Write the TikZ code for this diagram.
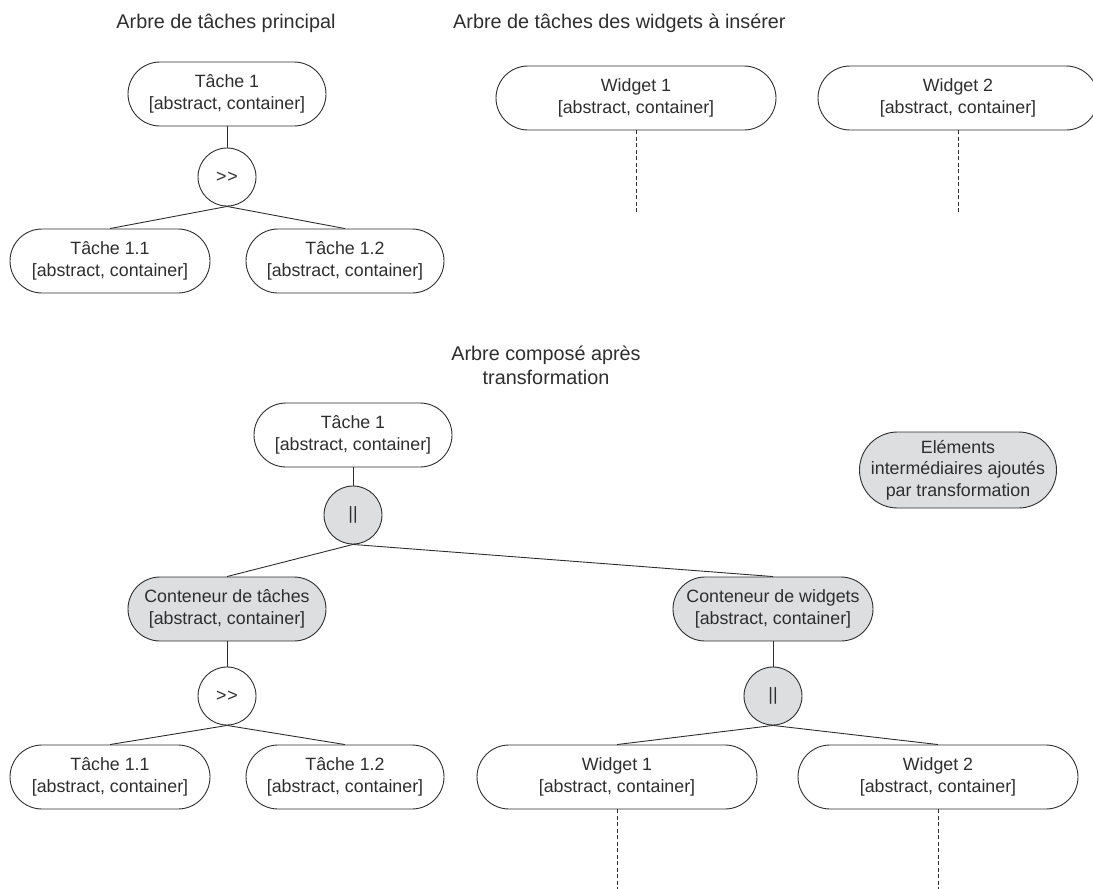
\documentclass[tikz,border=0pt]{standalone}
\usepackage{fontspec}
\setmainfont{Liberation Sans}[Ligatures=NoCommon]
\definecolor{linec}{HTML}{2E2E2E}
\definecolor{graybg}{HTML}{DDDEDF}
\newcommand{\nodefont}{\fontsize{17.8}{21.7}\selectfont}
\newcommand{\titlefont}{\fontsize{19.8}{24}\selectfont}
\newcommand{\seqop}{{>}\kern1pt{>}}
\begin{document}
\begin{tikzpicture}[x=1pt,y=-1pt,
  box/.style={draw=linec, line width=0.9pt, rounded corners=32pt, minimum height=64pt,
    align=center, inner sep=0pt, font=\nodefont, text=linec},
  taskbox/.style={box, minimum width=198pt},
  widbox/.style={box, minimum width=280pt},
  added/.style={fill=graybg},
  opnode/.style={circle, draw=linec, line width=0.9pt, minimum size=58pt, inner sep=0pt,
    font=\nodefont, text=linec},
  conn/.style={draw=linec, line width=0.9pt},
  dashconn/.style={draw=linec, line width=0.8pt, dash pattern=on 4pt off 2.5pt},
  title/.style={font=\titlefont, text=linec, align=center, inner sep=0pt}
]
\useasboundingbox (0,0) rectangle (1093,889);

% ---------- Titles ----------
\node[title] (tt1) at (226,23) {Arbre de tâches principal};
\node[title, anchor=west] (tt2) at (453,23) {Arbre de tâches des widgets à insérer};
\node[title] (tt3) at (546,365) {Arbre composé après\\transformation};

% ---------- Top-left tree ----------
\node[taskbox] (a1) at (227,94) {Tâche 1\\{}[abstract, container]};
\node[opnode] (aop) at (227,177) {\seqop};
\node[taskbox, minimum width=200pt] (a11) at (110,261) {Tâche 1.1\\{}[abstract, container]};
\node[taskbox] (a12) at (345,261) {Tâche 1.2\\{}[abstract, container]};
\draw[conn] (a1.south) -- (aop.north);
\draw[conn] (aop.south) -- (a11.north);
\draw[conn] (aop.south) -- (a12.north);

% ---------- Top-right widgets ----------
\node[widbox] (w1) at (636,98) {Widget 1\\{}[abstract, container]};
\node[widbox] (w2) at (958,98) {Widget 2\\{}[abstract, container]};
\coordinate (w1e) at (636,213);
\coordinate (w2e) at (958,213);
\draw[dashconn] (w1.south) -- (w1e);
\draw[dashconn] (w2.south) -- (w2e);

% ---------- Legend ----------
\node[box, added, minimum width=197pt, minimum height=76pt, rounded corners=38pt] (leg) at (958,470)
  {Eléments\\intermédiaires ajoutés\\par transformation};

% ---------- Composed tree ----------
\node[taskbox] (b1) at (353,435) {Tâche 1\\{}[abstract, container]};
\node[opnode, added] (bpar) at (353,515) {||};
\node[taskbox, added] (bct) at (227,609) {Conteneur de tâches\\{}[abstract, container]};
\node[taskbox, added, minimum width=200pt] (bcw) at (773,609) {Conteneur de widgets\\{}[abstract, container]};
\node[opnode] (bseq) at (227,696) {\seqop};
\node[opnode, added] (bpar2) at (773,696) {||};
\node[taskbox, minimum width=200pt] (b11) at (110,777) {Tâche 1.1\\{}[abstract, container]};
\node[taskbox] (b12) at (345,777) {Tâche 1.2\\{}[abstract, container]};
\node[widbox] (bw1) at (617,777) {Widget 1\\{}[abstract, container]};
\node[widbox] (bw2) at (938,777) {Widget 2\\{}[abstract, container]};
\coordinate (bw1e) at (617,889);
\coordinate (bw2e) at (938,889);

\draw[conn] (b1.south) -- (bpar.north);
\draw[conn] (bpar.south) -- (bct.north);
\draw[conn] (bpar.south) -- (bcw.north);
\draw[conn] (bct.south) -- (bseq.north);
\draw[conn] (bcw.south) -- (bpar2.north);
\draw[conn] (bseq.south) -- (b11.north);
\draw[conn] (bseq.south) -- (b12.north);
\draw[conn] (bpar2.south) -- (bw1.north);
\draw[conn] (bpar2.south) -- (bw2.north);
\draw[dashconn] (bw1.south) -- (bw1e);
\draw[dashconn] (bw2.south) -- (bw2e);
\end{tikzpicture}
\end{document}
